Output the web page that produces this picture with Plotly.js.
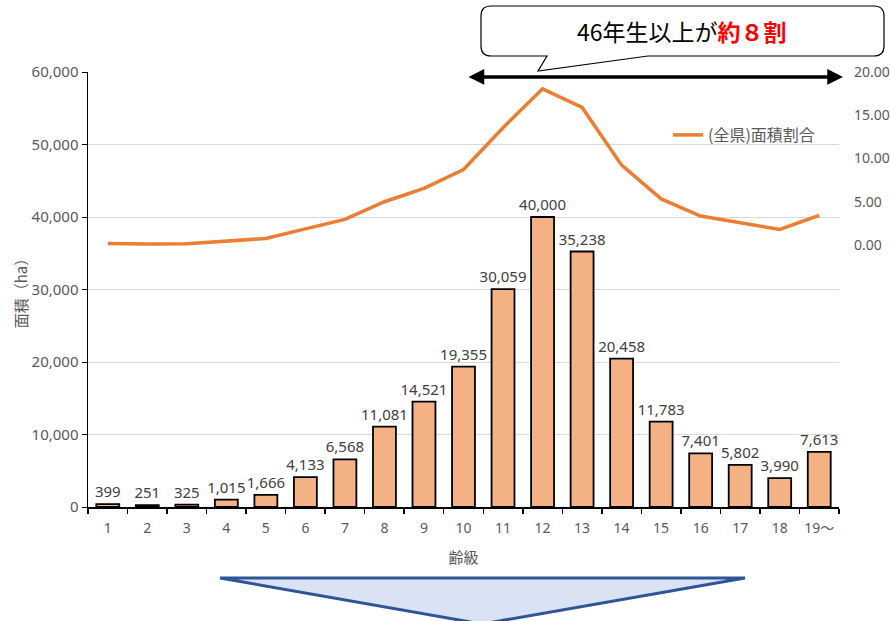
<!DOCTYPE html>
<html><head><meta charset="utf-8">
<script src="https://cdn.plot.ly/plotly-3.0.1.min.js"></script>
<style>html,body{margin:0;padding:0;background:#fff}#chart{width:890px;height:621px}</style>
</head><body><div id="chart"></div>
<script>
const categories = ['1','2','3','4','5','6','7','8','9','10','11','12','13','14','15','16','17','18','19～'];
const areaHa = [399,251,325,1015,1666,4133,6568,11081,14521,19355,30059,40000,35238,20458,11783,7401,5802,3990,7613];
const sharePct = [0.18,0.11,0.15,0.46,0.75,1.86,2.96,5.00,6.55,8.73,13.56,18.05,15.90,9.23,5.32,3.34,2.62,1.80,3.43];
const y2Ticks = [0,5,10,15,20];
const y2TickText = ['0.00','5.00','10.00','15.00','20.00'];

const W=890,H=621,L=88,R=51,T=72,B=114;
const pw=W-L-R, ph=H-T-B;
const X=p=>((p-L)/pw).toFixed(5);
const Y=p=>((H-B-p)/ph).toFixed(5);
function path(pts){
  return pts.map(s=>{
    const c=s[0]; const n=s.slice(1);
    let out=c;
    for(let i=0;i<n.length;i+=2){out+=' '+X(n[i])+','+Y(n[i+1]);}
    return out;
  }).join(' ')+' Z';
}
const callout = path([
  ['M',491,6],['L',874,6],['Q',884,6,884,16],['L',884,46],['Q',884,56,874,56],
  ['L',648,56],['L',538,71],['L',547,56],['L',491,56],['Q',481,56,481,46],['L',481,16],['Q',481,6,491,6]
]);
const tri = path([['M',220,578],['L',745,578],['L',482,624]]);

const font = "'Noto Sans','Noto Sans CJK JP',sans-serif";
const cjk = "'Noto Sans CJK JP','Noto Sans',sans-serif";

const traces = [
  {type:'bar', x:categories, y:areaHa, name:'面積', showlegend:false,
   marker:{color:'#F4B183', line:{color:'#000', width:1.8}},
   text:areaHa.map(v=>v.toLocaleString('en-US')), textposition:'outside', constraintext:'none', cliponaxis:false,
   textfont:{family:font, size:15, color:'#404040'}, hoverinfo:'skip'},
  {type:'scatter', mode:'lines', x:categories, y:sharePct, yaxis:'y2', name:'(全県)面積割合',
   line:{color:'#ED7D31', width:3.5}}
];

const layout = {
  width:W, height:H, margin:{l:L,r:R,t:T,b:B,autoexpand:false},
  paper_bgcolor:'#fff', plot_bgcolor:'#fff', bargap:0.42,
  font:{family:font, color:'#595959', size:14},
  xaxis:{type:'category', showline:true, linecolor:'#000', linewidth:1.5, ticks:'outside', tickson:'boundaries',
    ticklen:5, tickcolor:'#000', tickwidth:1.5, tickangle:0, tickfont:{size:14,color:'#595959'}, ticklabelstandoff:8,
    title:{text:'齢級', font:{family:cjk,size:15,color:'#595959'}, standoff:16}},
  yaxis:{range:[0,60000], dtick:10000, tickformat:',', showline:true, linecolor:'#000', linewidth:1.5,
    ticks:'outside', ticklen:5, tickcolor:'#000', gridcolor:'#d9d9d9', gridwidth:1, zeroline:false,
    tickfont:{size:15,color:'#595959'},
    title:{text:'面積（ha）', font:{family:cjk,size:15,color:'#595959'}, standoff:0}},
  yaxis2:{overlaying:'y', side:'right', range:[-30.3,20], tickvals:y2Ticks, ticktext:y2TickText,
    showgrid:false, zeroline:false, showline:false, ticks:'', ticklabelstandoff:14,
    tickfont:{size:14,color:'#595959'}},
  legend:{x:X(668), y:Y(118), xanchor:'left', yanchor:'top', bgcolor:'rgba(0,0,0,0)',
    font:{family:cjk,size:16,color:'#595959'}},
  shapes:[
    {type:'path', xref:'paper', yref:'paper', path:callout, fillcolor:'#fff', line:{color:'#000',width:1.2}},
    {type:'path', xref:'paper', yref:'paper', path:tri, fillcolor:'#DAE3F3', line:{color:'#2F5597',width:3}}
  ],
  annotations:[
    {xref:'paper', yref:'paper', x:X(682), y:Y(31), xanchor:'center', yanchor:'middle', showarrow:false,
     text:'46年生以上が<b><span style="color:#ff0000">約８割</span></b>',
     font:{family:cjk, size:23, color:'#000'}},
    {xref:'paper', yref:'paper', x:X(843), y:Y(77), ax:-376, ay:0, axref:'pixel', ayref:'pixel',
     showarrow:true, arrowside:'end+start', arrowhead:2, arrowsize:0.9, arrowwidth:3.5, arrowcolor:'#000',
     text:'', standoff:0, startstandoff:0}
  ]
};
Plotly.newPlot('chart', traces, layout, {displayModeBar:false, staticPlot:true});
</script></body></html>
